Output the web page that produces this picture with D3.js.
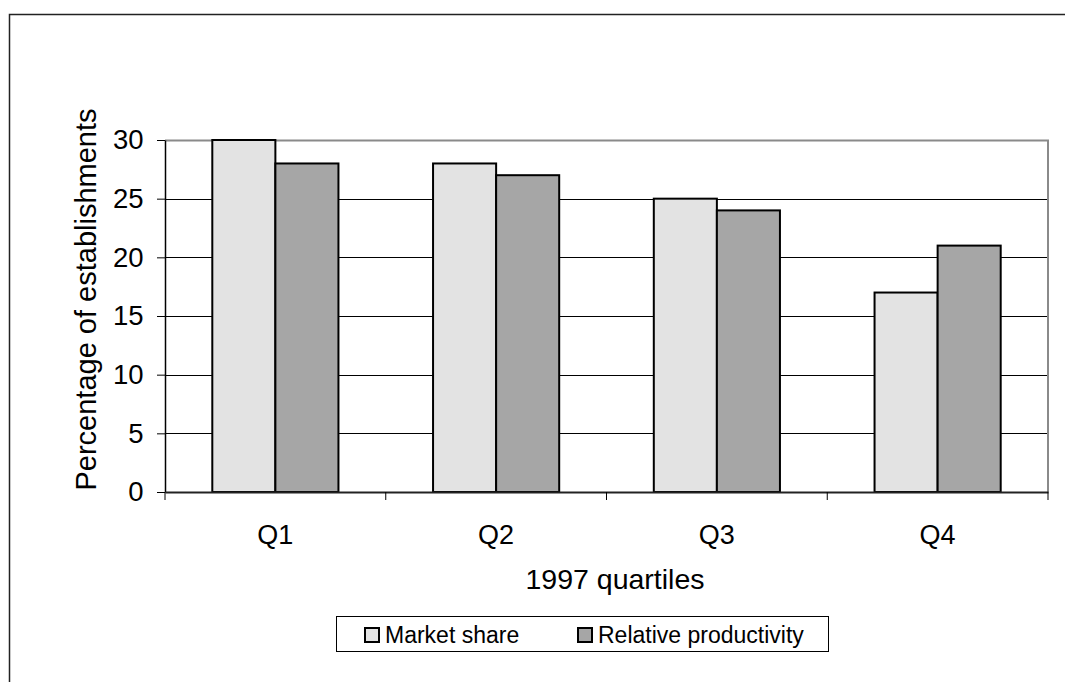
<!DOCTYPE html>
<html>
<head>
<meta charset="utf-8">
<script src="https://cdn.jsdelivr.net/npm/d3@7"></script>
<style>
  html, body { margin: 0; padding: 0; background: #fff; }
  svg { display: block; font-family: "Liberation Sans", Arial, sans-serif; }
</style>
</head>
<body>
<svg id="chart" width="1065" height="682"></svg>
<script>
const categories = ["Q1", "Q2", "Q3", "Q4"];
const seriesNames = ["Market share", "Relative productivity"];
const marketShare = [30, 28, 25, 17];
const relativeProductivity = [28, 27, 24, 21];
const yTicks = [0, 5, 10, 15, 20, 25, 30];
const colors = ["#e3e3e3", "#a6a6a6"];

const svg = d3.select("#chart");
const W = 1065, H = 682;
const plot = { left: 165, right: 1048, top: 140, bottom: 492 };

// outer frame
svg.append("rect")
  .attr("x", 9.5).attr("y", 14.5)
  .attr("width", W + 20).attr("height", H + 20)
  .attr("fill", "#fff").attr("stroke", "#222").attr("stroke-width", 1.5);

const x0 = d3.scaleBand().domain(categories).range([plot.left, plot.right]).paddingInner(0).paddingOuter(0);
// Excel gap width 150%: group occupies 2 bars, gap = 1.5 bars
const barW = x0.bandwidth() / (2 + 1.5);
const y = d3.scaleLinear().domain([0, 30]).range([plot.bottom, plot.top]);

// gridlines
svg.append("g").selectAll("line")
  .data(yTicks.filter(t => t > 0 && t < 30))
  .join("line")
  .attr("x1", plot.left).attr("x2", plot.right)
  .attr("y1", d => Math.round(y(d)) + 0.5).attr("y2", d => Math.round(y(d)) + 0.5)
  .attr("stroke", "#000").attr("stroke-width", 1);

// plot border (top/right grey)
svg.append("path")
  .attr("d", `M${plot.left},${plot.top + 0.5}H${plot.right}V${plot.bottom}`)
  .attr("fill", "none").attr("stroke", "#8a8a8a").attr("stroke-width", 2);

// bars
const data = categories.map((c, i) => ({ cat: c, vals: [marketShare[i], relativeProductivity[i]] }));
const groups = svg.append("g").selectAll("g").data(data).join("g")
  .attr("transform", d => `translate(${x0(d.cat)},0)`);
groups.selectAll("rect")
  .data(d => d.vals.map((v, j) => ({ v, j })))
  .join("rect")
  .attr("x", d => barW * 0.75 + d.j * barW)
  .attr("y", d => y(d.v))
  .attr("width", barW)
  .attr("height", d => y(0) - y(d.v))
  .attr("fill", d => colors[d.j])
  .attr("stroke", "#000").attr("stroke-width", 2);

// y axis
const yAxis = svg.append("g").attr("transform", `translate(${plot.left},0)`)
  .call(d3.axisLeft(y).tickValues(yTicks).tickSize(8).tickPadding(13.5).tickSizeOuter(0));
yAxis.select(".domain").attr("stroke", "#000").attr("stroke-width", 1.5);
yAxis.selectAll(".tick line").attr("stroke", "#000");
yAxis.selectAll("text").attr("font-size", 27.5).attr("fill", "#000")
  .attr("font-family", "Liberation Sans, Arial, sans-serif");

// x axis
const xAxis = svg.append("g").attr("transform", `translate(0,${plot.bottom})`)
  .call(d3.axisBottom(x0).tickSize(0).tickPadding(33));
xAxis.select(".domain").attr("stroke", "#222").attr("stroke-width", 2);
xAxis.selectAll("text").attr("font-size", 27).attr("fill", "#000")
  .attr("font-family", "Liberation Sans, Arial, sans-serif");
// boundary ticks between categories
const bounds = categories.map(c => x0(c)).concat([x0(categories[3]) + x0.bandwidth()]);
svg.append("g").selectAll("line").data(bounds).join("line")
  .attr("x1", d => d).attr("x2", d => d)
  .attr("y1", plot.bottom).attr("y2", plot.bottom + 8)
  .attr("stroke", "#000").attr("stroke-width", 1);

// axis titles
svg.append("text")
  .attr("x", 615).attr("y", 589)
  .attr("text-anchor", "middle").attr("font-size", 28.5)
  .text("1997 quartiles");
svg.append("text")
  .attr("transform", `translate(96,299.5) rotate(-90)`)
  .attr("text-anchor", "middle").attr("font-size", 29)
  .text("Percentage of establishments");

// legend
const legend = svg.append("g");
legend.append("rect")
  .attr("x", 336.5).attr("y", 616.5).attr("width", 492).attr("height", 35)
  .attr("fill", "#fff").attr("stroke", "#000").attr("stroke-width", 1);
const legX = [365, 578];
seriesNames.forEach((s, i) => {
  legend.append("rect")
    .attr("x", legX[i]).attr("y", 628).attr("width", 14).attr("height", 14)
    .attr("fill", colors[i]).attr("stroke", "#000").attr("stroke-width", 2);
  legend.append("text")
    .attr("x", legX[i] + 20).attr("y", 642.5)
    .attr("font-size", 23)
    .text(s);
});
</script>
</body>
</html>
